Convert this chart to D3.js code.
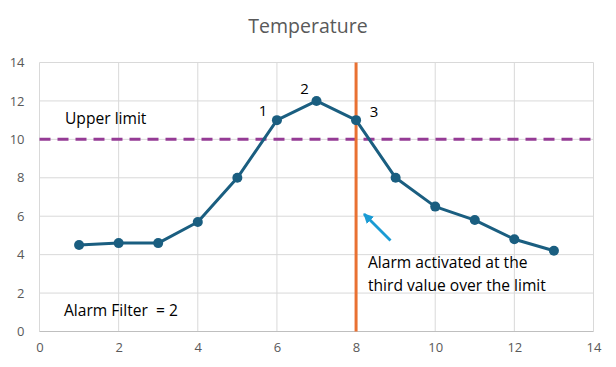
<!DOCTYPE html>
<html><head><meta charset="utf-8">
<script src="https://cdn.jsdelivr.net/npm/d3@7"></script>
<style>body{margin:0;background:#fff}svg{display:block}text{font-family:"Open Sans",sans-serif}</style>
</head><body><svg id="c" width="616" height="367"></svg>
<script>
const xValues = [1,2,3,4,5,6,7,8,9,10,11,12,13];
const temps = [4.5,4.6,4.6,5.7,8.0,11.0,12.0,11.0,8.0,6.5,5.8,4.8,4.2];
const xTicks = [0,2,4,6,8,10,12,14];
const yTicks = [0,2,4,6,8,10,12,14];
const upperLimit = 10;
const alarmX = 8;
const title = "Temperature";
const pointLabels = [{i:5,t:"1",dx:-14,dy:-4},{i:6,t:"2",dx:-12,dy:-7},{i:7,t:"3",dx:18,dy:-3}];

const svg = d3.select("#c");
const x = d3.scaleLinear().domain([0,14]).range([39.5,593.5]);
const y = d3.scaleLinear().domain([0,14]).range([331.5,62.5]);

svg.append("text").attr("x",308).attr("y",33).attr("text-anchor","middle")
  .attr("fill","#595959").style("font-size","19.5px").text(title);

// grid
svg.append("g").selectAll("line").data(yTicks.filter(d=>d>0)).join("line")
  .attr("x1",x(0)).attr("x2",x(14)).attr("y1",d=>y(d)).attr("y2",d=>y(d))
  .attr("stroke","#d9d9d9").attr("stroke-width",1);
svg.append("g").selectAll("line").data(xTicks).join("line")
  .attr("x1",d=>x(d)).attr("x2",d=>x(d)).attr("y1",y(0)).attr("y2",y(14))
  .attr("stroke","#d9d9d9").attr("stroke-width",1);
svg.append("line").attr("x1",x(0)).attr("x2",x(14)).attr("y1",y(0)).attr("y2",y(0))
  .attr("stroke","#bfbfbf").attr("stroke-width",1);

// axes labels
const xa = svg.append("g").attr("transform",`translate(0,${y(0)})`)
  .call(d3.axisBottom(x).tickValues(xTicks).tickSize(0).tickPadding(11));
const ya = svg.append("g").attr("transform",`translate(${x(0)},0)`)
  .call(d3.axisLeft(y).tickValues(yTicks).tickSize(0).tickPadding(15));
[xa,ya].forEach(a=>{a.select(".domain").remove();
  a.selectAll("text").attr("fill","#595959").style("font-size","13px").style("font-family","'Open Sans',sans-serif");});

// upper limit
svg.append("line").attr("x1",x(0)).attr("x2",x(14)).attr("y1",y(upperLimit)).attr("y2",y(upperLimit))
  .attr("stroke","#953b95").attr("stroke-width",3).attr("stroke-dasharray","11,7");

// alarm line
svg.append("line").attr("x1",x(alarmX)).attr("x2",x(alarmX)).attr("y1",y(14)).attr("y2",y(0))
  .attr("stroke","#e97132").attr("stroke-width",3);

// series
const data = xValues.map((d,i)=>({x:d,y:temps[i]}));
svg.append("path").datum(data)
  .attr("d",d3.line().x(d=>x(d.x)).y(d=>y(d.y)))
  .attr("fill","none").attr("stroke","#1a5e80").attr("stroke-width",3).attr("stroke-linejoin","round");
svg.append("g").selectAll("circle").data(data).join("circle")
  .attr("cx",d=>x(d.x)).attr("cy",d=>y(d.y)).attr("r",5).attr("fill","#1a5e80");

// point labels
svg.append("g").selectAll("text").data(pointLabels).join("text")
  .attr("x",d=>x(data[d.i].x)+d.dx).attr("y",d=>y(data[d.i].y)+d.dy)
  .attr("text-anchor","middle").attr("fill","#000").style("font-size","15px").text(d=>d.t);

// annotations
const fs = "15.6px";
svg.append("text").attr("x",65).attr("y",124).attr("fill","#000").style("font-size",fs).text("Upper limit");
svg.append("text").attr("x",64).attr("y",316).attr("fill","#000").style("font-size",fs).style("white-space","pre").text("Alarm Filter  = 2");
svg.append("text").attr("x",368).attr("y",268).attr("fill","#000").style("font-size",fs).text("Alarm activated at the");
svg.append("text").attr("x",368).attr("y",291).attr("fill","#000").style("font-size",fs).text("third value over the limit");

// arrow
const defs = svg.append("defs");
defs.append("marker").attr("id","ah").attr("viewBox","0 0 10 10").attr("refX",9).attr("refY",5)
  .attr("markerUnits","userSpaceOnUse").attr("markerWidth",10).attr("markerHeight",10).attr("orient","auto")
  .append("path").attr("d","M0,0 L10,5 L0,10 z").attr("fill","#1a9bd4");
svg.append("line").attr("x1",390.5).attr("y1",240.5).attr("x2",364).attr("y2",214)
  .attr("stroke","#1a9bd4").attr("stroke-width",2.8).attr("marker-end","url(#ah)");
</script></body></html>
